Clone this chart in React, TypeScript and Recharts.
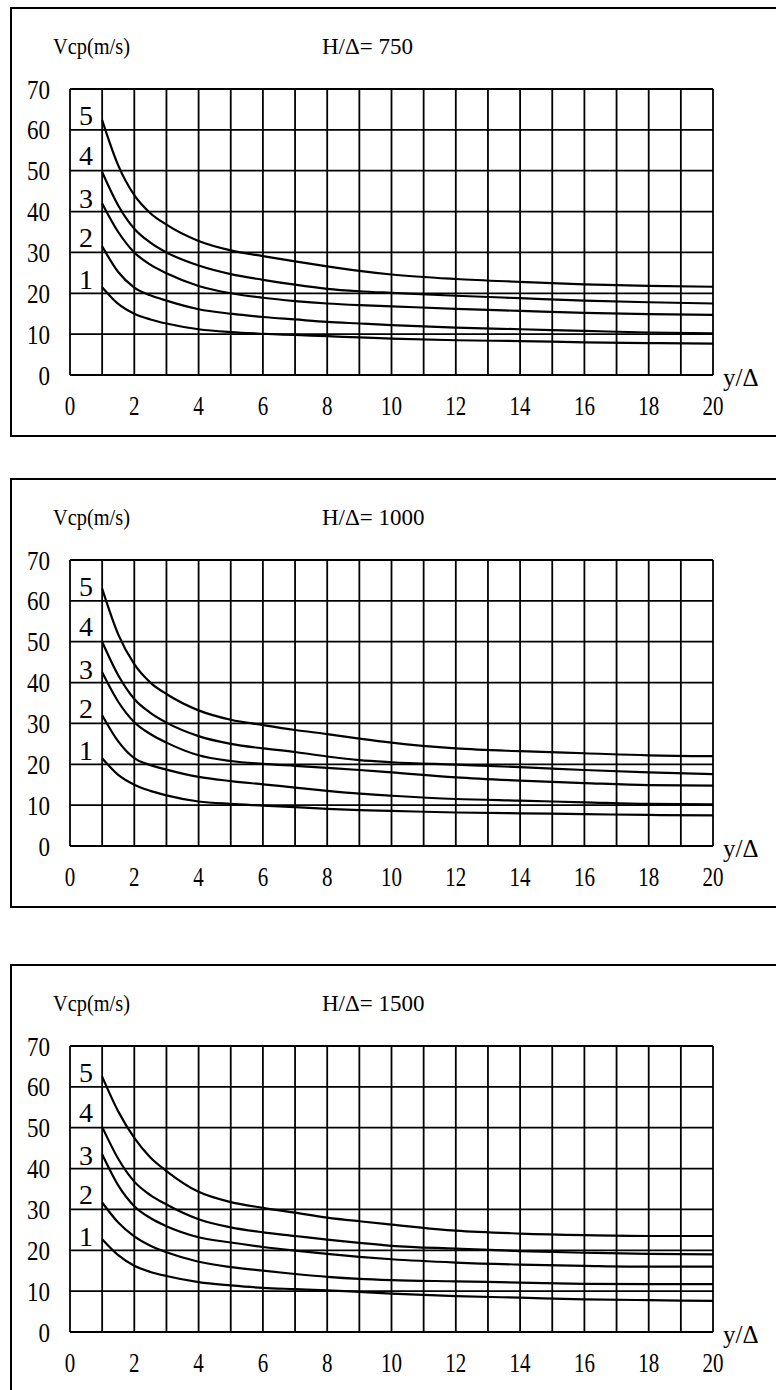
import { LineChart, Line, XAxis, YAxis, CartesianGrid, ReferenceDot } from 'recharts';

// y/Δ positions where the curves were read
const yDelta = [1, 1.5, 2, 2.5, 3, 4, 5, 6, 7, 8, 9, 10, 12, 14, 16, 18, 20];

const xTicks = [0, 1, 2, 3, 4, 5, 6, 7, 8, 9, 10, 11, 12, 13, 14, 15, 16, 17, 18, 19, 20];
const yTicks = [0, 10, 20, 30, 40, 50, 60, 70];

const curveNames = ['1', '2', '3', '4', '5'];
const curveLabelY = [23.5, 33.8, 43.3, 53.8, 63.6];
const curveLabelX = 0.5;

// H/Δ = 750
const h750c1 = [21.5, 17.4, 15.0, 13.6, 12.6, 11.2, 10.5, 10.1, 9.8, 9.5, 9.2, 8.9, 8.5, 8.3, 8.0, 7.8, 7.7];
const h750c2 = [31.5, 25.2, 21.4, 19.5, 18.2, 16.1, 15.0, 14.2, 13.6, 13.0, 12.6, 12.2, 11.6, 11.2, 10.8, 10.4, 10.2];
const h750c3 = [42.0, 35.0, 30.0, 27.0, 24.9, 21.8, 20.0, 18.9, 18.1, 17.5, 17.1, 16.8, 16.2, 15.7, 15.2, 14.9, 14.7];
const h750c4 = [49.7, 41.5, 35.8, 32.4, 30.0, 26.8, 24.7, 23.3, 22.1, 21.1, 20.5, 20.1, 19.4, 18.8, 18.2, 17.8, 17.5];
const h750c5 = [62.4, 51.3, 44.0, 39.6, 36.8, 32.8, 30.5, 29.1, 27.8, 26.6, 25.5, 24.6, 23.5, 22.8, 22.2, 21.8, 21.6];

// H/Δ = 1000
const h1000c1 = [21.5, 17.4, 15.0, 13.5, 12.4, 10.9, 10.3, 9.9, 9.5, 9.1, 8.8, 8.6, 8.2, 8.0, 7.8, 7.6, 7.5];
const h1000c2 = [32.0, 25.6, 21.5, 19.8, 18.7, 16.9, 15.9, 15.1, 14.3, 13.5, 12.8, 12.3, 11.5, 11.1, 10.7, 10.3, 10.2];
const h1000c3 = [42.5, 35.3, 30.3, 27.4, 25.3, 22.2, 20.8, 20.1, 19.6, 19.1, 18.6, 18.0, 16.8, 16.0, 15.4, 14.9, 14.8];
const h1000c4 = [50.0, 41.8, 36.0, 32.6, 30.2, 26.9, 25.0, 23.9, 23.0, 21.9, 21.0, 20.5, 19.9, 19.3, 18.6, 18.0, 17.6];
const h1000c5 = [63.0, 51.8, 44.5, 40.0, 37.2, 33.2, 30.9, 29.6, 28.4, 27.4, 26.3, 25.3, 23.9, 23.2, 22.7, 22.2, 22.0];

// H/Δ = 1500
const h1500c1 = [22.7, 18.8, 16.2, 14.7, 13.7, 12.2, 11.4, 10.8, 10.5, 10.2, 9.8, 9.4, 8.8, 8.4, 8.0, 7.8, 7.6];
const h1500c2 = [31.7, 26.8, 23.4, 21.1, 19.5, 17.2, 15.9, 15.0, 14.2, 13.5, 13.0, 12.7, 12.4, 12.1, 11.8, 11.7, 11.7];
const h1500c3 = [43.5, 35.9, 30.8, 27.9, 25.9, 23.2, 21.9, 20.8, 19.9, 19.1, 18.4, 17.8, 17.0, 16.5, 16.2, 16.0, 16.0];
const h1500c4 = [50.2, 42.4, 36.8, 33.5, 31.2, 27.6, 25.6, 24.4, 23.5, 22.6, 21.8, 21.1, 20.4, 19.8, 19.4, 19.1, 19.0];
const h1500c5 = [62.5, 54.0, 47.5, 42.7, 39.4, 34.3, 31.8, 30.4, 29.2, 28.0, 27.1, 26.3, 24.8, 24.1, 23.7, 23.5, 23.5];

const ratios = ['750', '1000', '1500'];
const seriesByPanel = [
  [h750c1, h750c2, h750c3, h750c4, h750c5],
  [h1000c1, h1000c2, h1000c3, h1000c4, h1000c5],
  [h1500c1, h1500c2, h1500c3, h1500c4, h1500c5],
];
const panelTops = [7, 478, 964];

const FONT = '"Liberation Serif", "Times New Roman", serif';
const W = 776;
const CH = 440;

const YTick = (props: any) => {
  const { x, y, payload } = props;
  const s = String(payload.value);
  return (
    <text x={x} y={y} textAnchor="end" dominantBaseline="central" fontFamily={FONT} fontSize={28}
      fill="#000" textLength={11.5 * s.length} lengthAdjust="spacingAndGlyphs">
      {s}
    </text>
  );
};

const XTick = (props: any) => {
  const { x, y, payload } = props;
  if (payload.value % 2 !== 0) return null;
  const s = String(payload.value);
  return (
    <text x={x} y={y} dy="0.68em" textAnchor="middle" fontFamily={FONT} fontSize={28}
      fill="#000" textLength={10.5 * s.length} lengthAdjust="spacingAndGlyphs">
      {s}
    </text>
  );
};

function Panel({ top, ratio, series }: { top: number; ratio: string; series: number[][] }) {
  const data = yDelta.map((x, i) => {
    const row: any = { x };
    series.forEach((s, k) => { row['c' + (k + 1)] = s[i]; });
    return row;
  });
  return (
    <div style={{ position: 'absolute', left: 0, top, width: W, height: CH }}>
      <div style={{
        position: 'absolute', left: 10, top: 0, width: 800, height: 426,
        borderTop: '2px solid #000', borderLeft: '2px solid #000', borderBottom: '2px solid #000',
      }} />
      <div style={{ position: 'absolute', left: 0, top: 0 }}>
        <LineChart width={W} height={CH} data={data} margin={{ top: 82, right: 63, bottom: 42, left: 10 }}>
          <CartesianGrid stroke="#000" strokeWidth={1.8} fill="none" />
          <XAxis dataKey="x" type="number" domain={[0, 20]} ticks={xTicks} interval={0}
            axisLine={false} tickLine={false} tickSize={14} tickMargin={7} height={30} tick={<XTick />} />
          <YAxis type="number" domain={[0, 70]} ticks={yTicks} interval={0}
            axisLine={false} tickLine={false} tickSize={14} tickMargin={6} width={60} tick={<YTick />} />
          {series.map((_, k) => (
            <Line key={k} dataKey={'c' + (k + 1)} type="monotone" stroke="#000" strokeWidth={2.2}
              dot={false} isAnimationActive={false} />
          ))}
          {curveNames.map((n, k) => (
            <ReferenceDot key={n} x={curveLabelX} y={curveLabelY[k]} r={0} fill="none" stroke="none"
              label={{ value: n, position: 'center', fontSize: 28, fill: '#000', fontFamily: FONT }} />
          ))}
        </LineChart>
      </div>
      <svg width={W} height={CH} style={{ position: 'absolute', left: 0, top: 0, pointerEvents: 'none' }}>
        <text x={53} y={47} fontFamily={FONT} fontSize={23} fill="#000" textLength={77} lengthAdjust="spacingAndGlyphs">Vcp(m/s)</text>
        <text x={322} y={47} fontFamily={FONT} fontSize={23} fill="#000">{'H/Δ= ' + ratio}</text>
        <text x={723} y={379} fontFamily={FONT} fontSize={25} fill="#000">y/Δ</text>
      </svg>
    </div>
  );
}

export default function App() {
  return (
    <div style={{ position: 'absolute', left: 0, top: 0, width: W, height: 1390, overflow: 'hidden', background: '#fff' }}>
      {panelTops.map((t, i) => (
        <Panel key={i} top={t} ratio={ratios[i]} series={seriesByPanel[i]} />
      ))}
    </div>
  );
}
